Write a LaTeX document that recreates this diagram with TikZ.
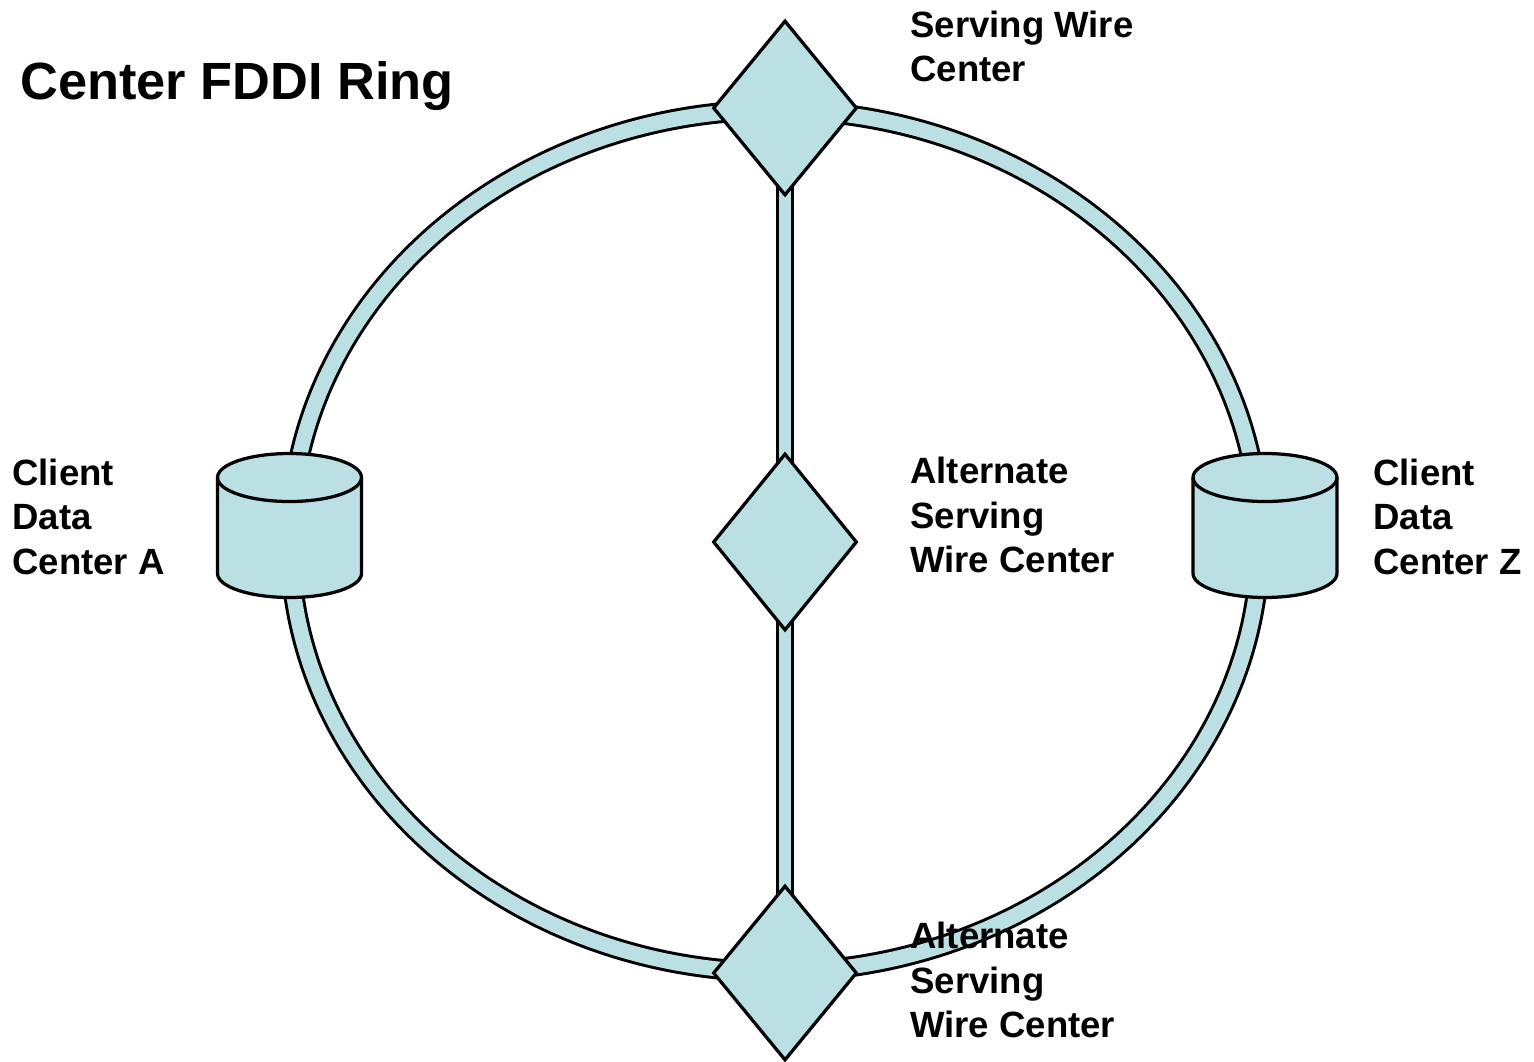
\documentclass[tikz,border=0pt]{standalone}
\usepackage{fontspec}
\setmainfont{Liberation Sans}
\usepackage{tikz}
\usetikzlibrary{shapes,positioning,backgrounds}
\usepackage{xcolor}
\definecolor{ringfill}{RGB}{187,224,227}

\begin{document}
\begin{tikzpicture}[
                    x=0.02cm, y=-0.02cm,
                    hub/.style={diamond, draw, line width=0.065cm, fill=ringfill, minimum width=2.88cm, minimum height=3.5cm, inner sep=0pt},
                    site/.style={rectangle, minimum width=2.88cm, minimum height=2.9cm, inner sep=0pt},
                    can/.style={draw, line width=0.065cm, fill=ringfill},
                    link/.style={draw, line width=0.06cm, double=ringfill, double distance=0.30cm},
                    tag/.style={anchor=west, align=left, inner sep=0pt, font=\fontsize{20.8}{25.3}\selectfont\bfseries}
                ]
                    \useasboundingbox (0,0) rectangle (1534,1061);

                    \node[hub] (swc) at (785,108) {};
                    \node[hub, minimum height=3.54cm] (aswc) at (785,542) {};
                    \node[hub] (aswcb) at (785,973) {};
                    \node[site] (cdca) at (289.5,525.5) {};
                    \node[site] (cdcz) at (1265,525.5) {};
                    \coordinate (ringc) at (775,541);

                    % data center cans
                    \foreach \s in {cdca,cdcz} {
                        \begin{scope}[shift={(\s.center)}, x=1cm, y=1cm]
                            \path[can] (-1.44,0.96) -- (-1.44,-0.96) arc[start angle=180, end angle=360, x radius=1.44, y radius=0.48]
                                -- (1.44,0.96) arc[start angle=0, end angle=180, x radius=1.44, y radius=0.48] -- cycle;
                            \draw[line width=0.065cm] (-1.44,0.96) arc[start angle=180, end angle=360, x radius=1.44, y radius=0.48];
                        \end{scope}
                    }

                    \begin{scope}[on background layer]
                        \draw[link] (ringc) ellipse [x radius=9.7cm, y radius=8.62cm];
                        \draw[link, double distance=0.25cm] (swc.center) -- (aswcb.center);
                    \end{scope}

                    \node[tag, anchor=base west, font=\fontsize{29.8}{36}\selectfont\bfseries] (title) at (20,100) {Center FDDI Ring};
                    \node[tag] (swclbl) at (910,46.5) {Serving Wire\\Center};
                    \node[tag] (cdcalbl) at (12,516.5) {Client\\Data\\Center A};
                    \node[tag] (aswclbl) at (910,515) {Alternate\\Serving\\Wire Center};
                    \node[tag] (cdczlbl) at (1373,516.5) {Client\\Data\\Center Z};
                    \node[tag] (aswcblbl) at (910,980) {Alternate\\Serving\\Wire Center};
                \end{tikzpicture}
\end{document}
